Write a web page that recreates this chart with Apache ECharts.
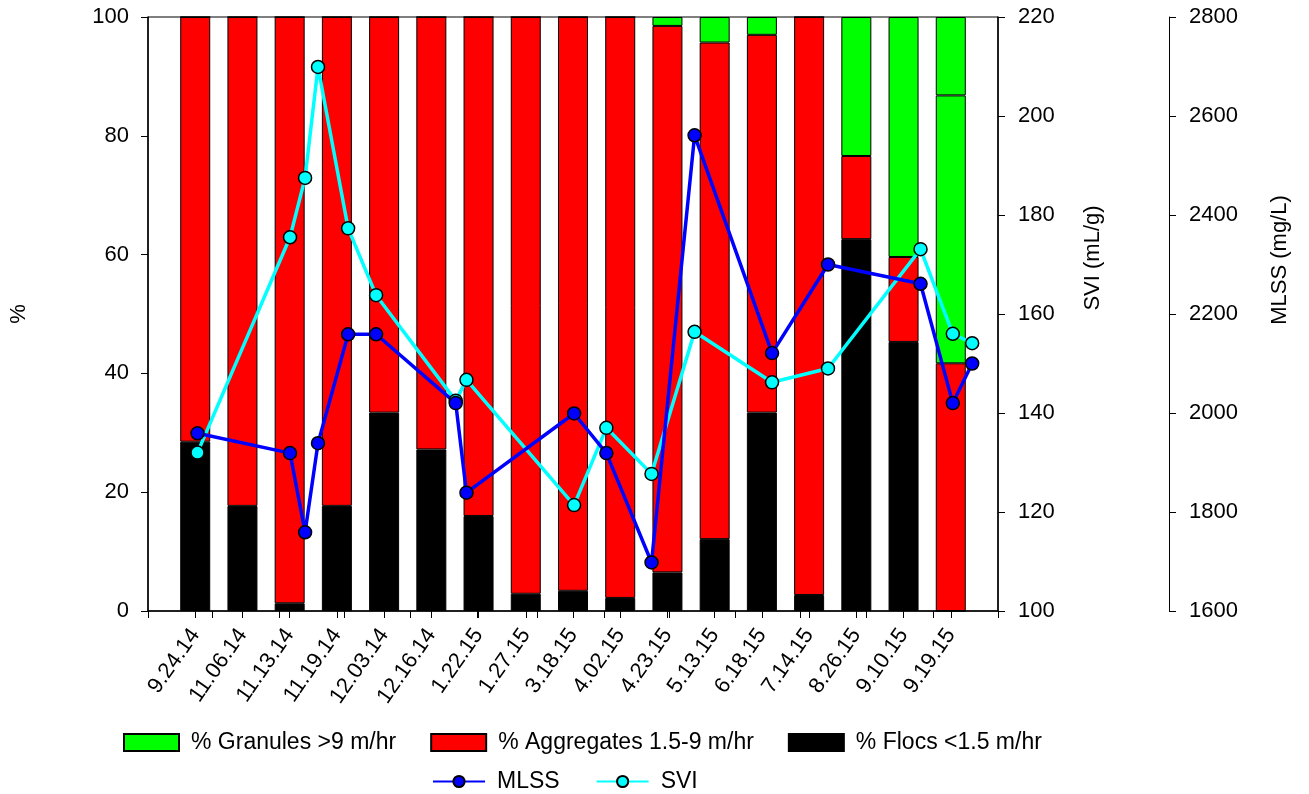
<!DOCTYPE html>
<html>
<head>
    <meta charset="utf-8">
    <title>Granules / MLSS / SVI</title>
    <script src="https://cdn.jsdelivr.net/npm/echarts@6/dist/echarts.min.js"></script>
    <style>
        body { margin: 0; background: #fff; }
        #chart { width: 1309px; height: 794px; }
    </style>
</head>
<body>
<div id="chart"></div>
<script type="text/javascript">
    // sampling dates (bar labels) and the same dates for the time-based lines
    var categories = ['9.24.14', '11.06.14', '11.13.14', '11.19.14', '12.03.14', '12.16.14', '1.22.15', '1.27.15',
        '3.18.15', '4.02.15', '4.23.15', '5.13.15', '6.18.15', '7.14.15', '8.26.15', '9.10.15', '9.19.15'];
    var sampleDates = ['2014-09-24', '2014-11-06', '2014-11-13', '2014-11-19', '2014-12-03', '2014-12-16', '2015-01-22',
        '2015-01-27', '2015-03-18', '2015-04-02', '2015-04-23', '2015-05-13', '2015-06-18', '2015-07-14',
        '2015-08-26', '2015-09-10', '2015-09-19'];

    // stacked bar fractions (%)
    var flocs = [28.5, 17.7, 1.3, 17.7, 33.4, 27.2, 16.0, 2.9, 3.4, 2.2, 6.5, 12.1, 33.4, 2.7, 62.6, 45.3, 0];
    var aggregates = [71.5, 82.3, 98.7, 82.3, 66.6, 72.8, 84.0, 97.1, 96.6, 97.8, 92.0, 83.6, 63.6, 97.3, 14.0, 14.3, 41.7];
    var granules = [0, 0, 0, 0, 0, 0, 0, 0, 0, 0, 1.5, 4.3, 3.0, 0, 23.4, 40.4, 45.1];
    var granulesTop = ['-', '-', '-', '-', '-', '-', '-', '-', '-', '-', '-', '-', '-', '-', '-', '-', 13.2];

    // lines
    var mlss = [1959, 1919, 1759, 1939, 2159, 2159, 2020, 1839, 1999, 1919, 1698, 2561, 2121, 2300, 2261, 2020, 2100];
    var svi = [132.0, 175.5, 187.5, 209.9, 177.3, 163.8, 142.5, 146.7, 121.4, 137.0, 127.7, 156.4, 146.2, 149.0, 173.1, 156.0, 154.1];

    var timeStart = '2014-09-01';
    var timeEnd = '2015-10-01';

    var FONT = 'Liberation Sans';
    var FS = 22;

    // one empty slot on each side of the bars
    var slotLabels = [''].concat(categories).concat(['']);
    function barData(arr) {
        return ['-'].concat(arr).concat(['-']);
    }
    function lineData(arr) {
        var out = [];
        for (var i = 0; i < arr.length; i++) {
            out.push([sampleDates[i], arr[i]]);
        }
        return out;
    }

    // month starts for the time axis ticks
    var monthTicks = [];
    for (var m = 0; m <= 13; m++) {
        monthTicks.push(new Date(2014, 8 + m, 1).getTime());
    }

    var chart = echarts.init(document.getElementById('chart'));
    var barBorder = { borderColor: '#000', borderWidth: 1 };
    var tickStyle = { color: '#000', width: 1 };

    var option = {
        backgroundColor: '#fff',
        animation: false,
        textStyle: { fontFamily: FONT, color: '#000' },
        grid: {
            left: 147, right: 311, top: 17, bottom: 183,
            show: true, borderColor: '#000', borderWidth: 1, backgroundColor: 'transparent'
        },
        legend: [{
            data: ['% Granules >9 m/hr', '% Aggregates 1.5-9 m/hr', '% Flocs <1.5 m/hr'],
            left: 118, top: 726,
            icon: 'rect',
            itemWidth: 55, itemHeight: 17, itemGap: 34,
            textStyle: { fontSize: 23, fontFamily: FONT, color: '#000', padding: [0, 0, 0, 7] }
        }, {
            data: ['MLSS', 'SVI'],
            left: 427, top: 765,
            itemWidth: 52, itemHeight: 14, itemGap: 36,
            textStyle: { fontSize: 23, fontFamily: FONT, color: '#000', padding: [0, 0, 0, 7] }
        }],
        xAxis: [{
            type: 'category',
            data: slotLabels,
            boundaryGap: false,
            position: 'bottom',
            splitLine: { show: false },
            axisLine: { lineStyle: { color: '#000', width: 1.5 } },
            axisTick: { show: true, length: 7, interval: 0, lineStyle: tickStyle },
            axisLabel: {
                interval: 0,
                rotate: 55,
                fontSize: FS,
                fontFamily: FONT,
                color: '#000',
                margin: 20
            }
        }, {
            type: 'time',
            min: timeStart, max: timeEnd,
            position: 'bottom',
            splitLine: { show: false },
            axisLine: { show: false },
            axisTick: { show: true, length: 7, customValues: monthTicks, lineStyle: tickStyle },
            axisLabel: { show: false }
        }],
        yAxis: [{
            type: 'value',
            min: 0, max: 100, interval: 20,
            position: 'left',
            name: '%',
            nameLocation: 'middle',
            nameGap: 118,
            nameTextStyle: { fontSize: FS, fontFamily: FONT, color: '#000' },
            splitLine: { show: false },
            axisLine: { show: true, lineStyle: { color: '#000', width: 1.5 } },
            axisTick: { show: true, length: 7, lineStyle: tickStyle },
            axisLabel: { fontSize: FS, fontFamily: FONT, color: '#000', margin: 19 }
        }, {
            type: 'value',
            min: 100, max: 220, interval: 20,
            position: 'right',
            name: 'SVI (mL/g)',
            nameLocation: 'middle',
            nameGap: 84,
            nameTextStyle: { fontSize: FS, fontFamily: FONT, color: '#000', padding: [0, 0, 0, 112] },
            splitLine: { show: false },
            axisLine: { show: true, lineStyle: { color: '#000', width: 1.5 } },
            axisTick: { show: true, length: 7, lineStyle: tickStyle },
            axisLabel: { fontSize: FS, fontFamily: FONT, color: '#000', margin: 20 }
        }, {
            type: 'value',
            min: 1600, max: 2800, interval: 200,
            position: 'right',
            offset: 171,
            name: 'MLSS (mg/L)',
            nameLocation: 'middle',
            nameGap: 100,
            nameTextStyle: { fontSize: FS, fontFamily: FONT, color: '#000', padding: [0, 0, 0, 108] },
            splitLine: { show: false },
            axisLine: { show: true, lineStyle: { color: '#000', width: 1 } },
            axisTick: { show: true, length: 7, lineStyle: tickStyle },
            axisLabel: {
                fontSize: FS, fontFamily: FONT, color: '#000', margin: 20,
                formatter: function (v) { return String(v); }
            }
        }],
        series: [{
            name: '% Flocs <1.5 m/hr',
            type: 'bar',
            stack: 'frac',
            xAxisIndex: 0, yAxisIndex: 0,
            barWidth: 30,
            itemStyle: Object.assign({ color: '#000000' }, barBorder),
            data: barData(flocs)
        }, {
            name: '% Aggregates 1.5-9 m/hr',
            type: 'bar',
            stack: 'frac',
            xAxisIndex: 0, yAxisIndex: 0,
            barWidth: 30,
            itemStyle: Object.assign({ color: '#ff0000' }, barBorder),
            data: barData(aggregates)
        }, {
            name: '% Granules >9 m/hr',
            type: 'bar',
            stack: 'frac',
            xAxisIndex: 0, yAxisIndex: 0,
            barWidth: 30,
            itemStyle: Object.assign({ color: '#00ff00' }, barBorder),
            data: barData(granules)
        }, {
            name: '% Granules >9 m/hr',
            type: 'bar',
            stack: 'frac',
            xAxisIndex: 0, yAxisIndex: 0,
            barWidth: 30,
            itemStyle: Object.assign({ color: '#00ff00' }, barBorder),
            data: barData(granulesTop)
        }, {
            name: 'SVI',
            type: 'line',
            xAxisIndex: 1, yAxisIndex: 1,
            symbol: 'circle',
            symbolSize: 13,
            lineStyle: { color: '#00ffff', width: 3.5 },
            itemStyle: { color: '#00ffff', borderColor: '#000', borderWidth: 1.5 },
            data: lineData(svi)
        }, {
            name: 'MLSS',
            type: 'line',
            xAxisIndex: 1, yAxisIndex: 2,
            symbol: 'circle',
            symbolSize: 13,
            lineStyle: { color: '#0000ff', width: 3.5 },
            itemStyle: { color: '#0000ff', borderColor: '#000', borderWidth: 1.5 },
            data: lineData(mlss)
        }]
    };
    chart.setOption(option);
</script>
</body>
</html>
